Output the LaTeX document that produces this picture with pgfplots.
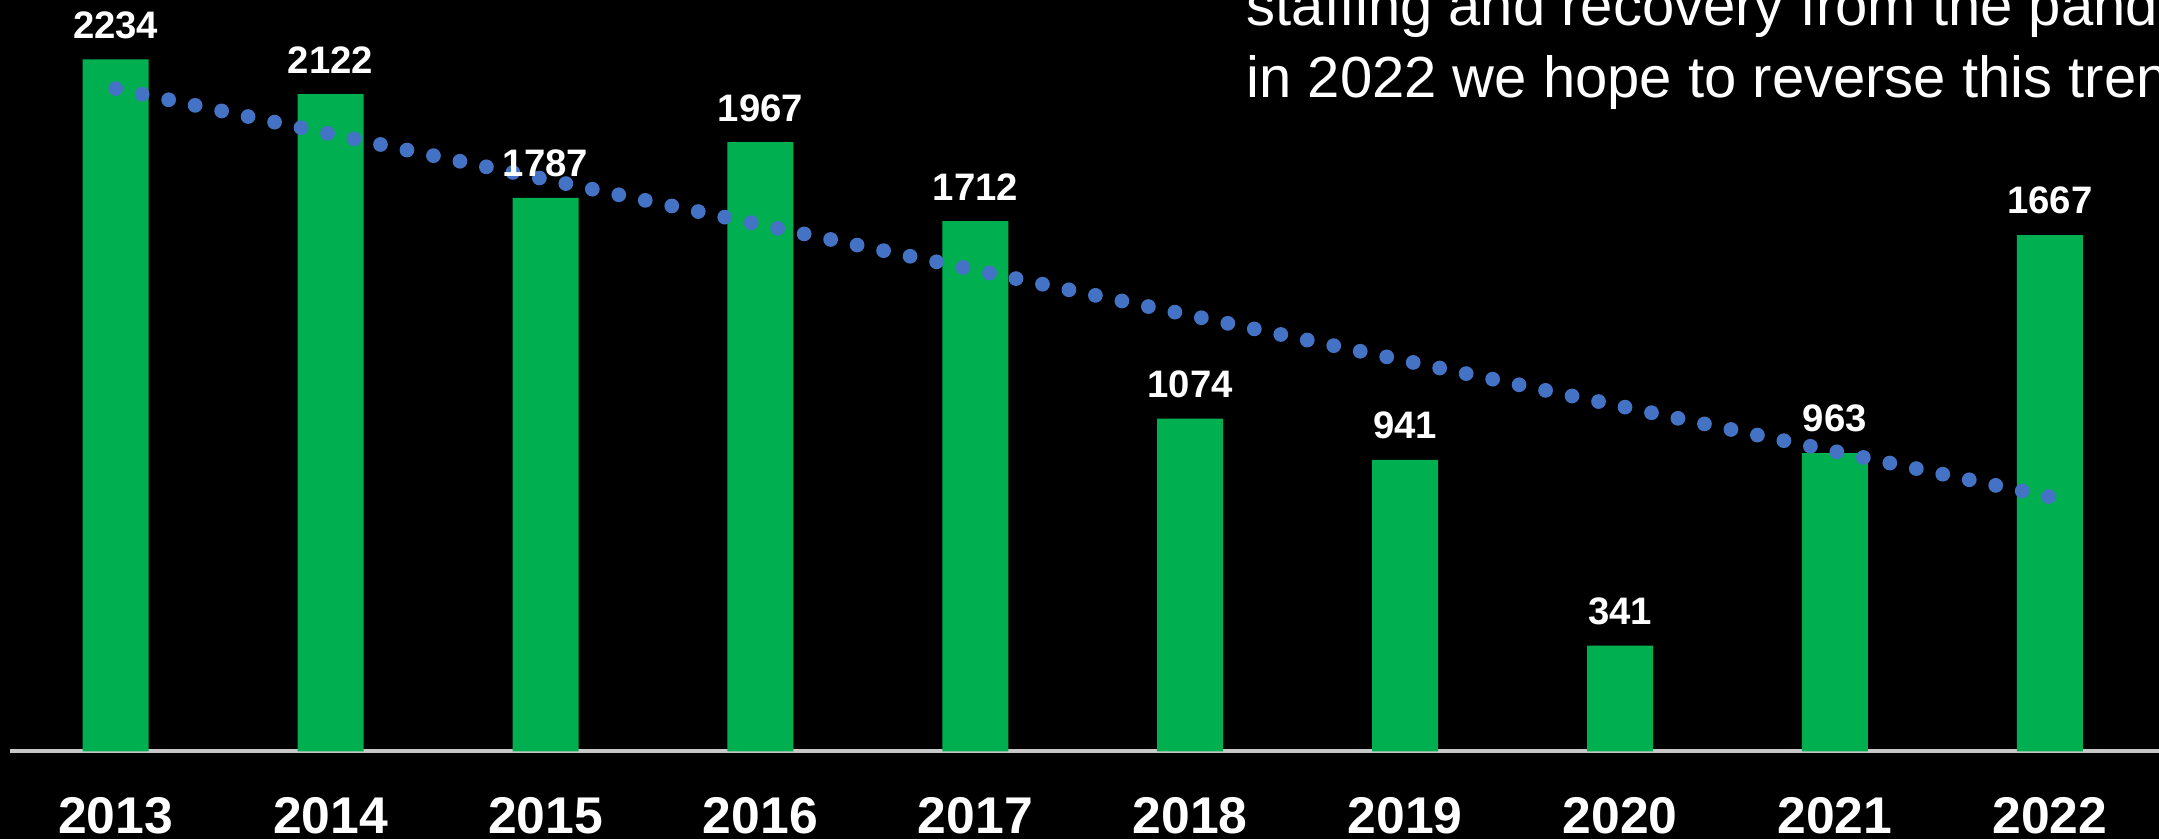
\documentclass[border=0pt]{standalone}
\usepackage{pgfplots}
\pgfplotsset{compat=1.18}
\usepackage{fontspec}
\setmainfont{Liberation Sans}
\definecolor{bargreen}{RGB}{0,176,80}
\definecolor{trendblue}{RGB}{68,114,196}
\definecolor{axisgray}{RGB}{200,200,200}

\begin{document}
\begin{tikzpicture}
\path[use as bounding box] (0,0) rectangle (21.59cm,8.39cm);
\fill[black] (0,0) rectangle (21.59cm,8.39cm);
\clip (0,0) rectangle (21.59cm,8.39cm);
\begin{axis}[
    at={(1.157cm,0.877cm)}, anchor=origin,
    x=2.149cm, y=0.003094cm,
    xmin=-0.49, xmax=9.55,
    ymin=0, ymax=2428,
    axis x line*=bottom,
    axis y line=none,
    x axis line style={axisgray, line width=1.2pt},
    xtick={0,1,2,3,4,5,6,7,8,9},
    xticklabels={\textbf{2013},\textbf{2014},\textbf{2015},\textbf{2016},\textbf{2017},
                 \textbf{2018},\textbf{2019},\textbf{2020},\textbf{2021},\textbf{2022}},
    major tick length=0pt,
    xticklabel style={font=\fontsize{14.7}{17}\selectfont, text=white,
                      inner sep=0pt, anchor=north, yshift=-0.45cm},
    ytick=\empty,
    clip=false,
    /pgf/number format/assume math mode=true,
    /pgf/number format/1000 sep={},
]
% incidents per year
\addplot[ybar, bar width=0.66cm, fill=bargreen, draw=none,
    nodes near coords,
    every node near coord/.append style={font=\bfseries\fontsize{10.9}{13}\selectfont,
        text=white, inner sep=0pt, anchor=south, yshift=0.2cm}]
    coordinates {
    (0,2234)(1,2122)(2,1787)(3,1967)(4,1712)
    (5,1074)(6,941)(7,341)(8,963)(9,1667)
    };
% linear trend
\addplot[trendblue, line width=4.2pt, line cap=round, dash pattern=on 0pt off 7.7pt]
    coordinates {(0,2139.8)(9,821.8)};
\end{axis}
\node[anchor=base west, text=white, inner sep=0pt, font=\fontsize{16.5}{19}\selectfont]
    at (12.46cm,8.13cm) {staffing and recovery from the pandemic,};
\node[anchor=base west, text=white, inner sep=0pt, font=\fontsize{16.5}{19}\selectfont]
    at (12.46cm,7.42cm) {in 2022 we hope to reverse this trend.};
\end{tikzpicture}
\end{document}
